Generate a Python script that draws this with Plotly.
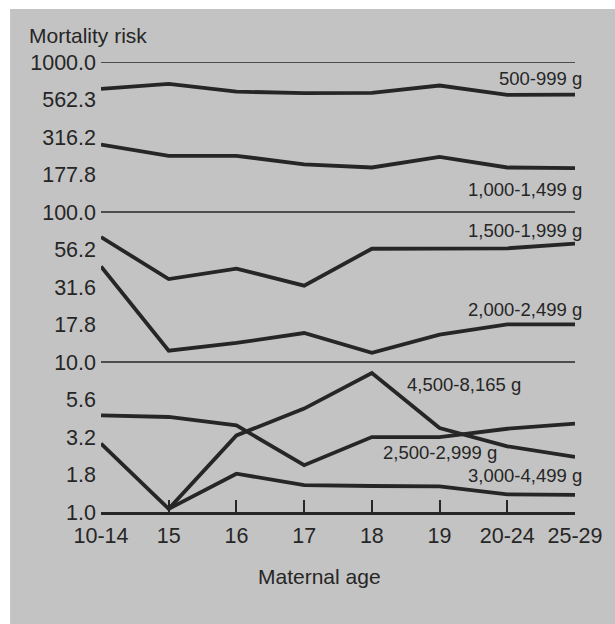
import plotly.graph_objects as go

ages = ["10-14", "15", "16", "17", "18", "19", "20-24", "25-29"]
w500 = [662, 714, 635, 620, 622, 697, 604, 606]
w1000 = [281, 237, 237, 208, 198, 233, 198, 196]
w1500 = [68.1, 35.7, 41.9, 32.3, 56.9, 56.9, 57.3, 61.5]
w2000 = [43.4, 11.9, 13.4, 15.6, 11.5, 15.2, 17.8, 17.8]
w2500 = [4.41, 4.30, 3.78, 2.05, 3.16, 3.16, 3.59, 3.88]
w3000 = [2.86, 1.05, 1.80, 1.51, 1.49, 1.48, 1.31, 1.30]
w4500 = [None, 1.05, 3.24, 4.89, 8.45, 3.63, 2.74, 2.33]

series = [
    ("500-999 g", w500),
    ("1,000-1,499 g", w1000),
    ("1,500-1,999 g", w1500),
    ("2,000-2,499 g", w2000),
    ("2,500-2,999 g", w2500),
    ("3,000-4,499 g", w3000),
    ("4,500-8,165 g", w4500),
]

ytickvals = [1.0, 1.778, 3.162, 5.623, 10.0, 17.78, 31.62, 56.23, 100.0, 177.8, 316.2, 562.3, 1000.0]
yticktext = ["1.0", "1.8", "3.2", "5.6", "10.0", "17.8", "31.6", "56.2", "100.0", "177.8", "316.2", "562.3", "1000.0"]
gridvals = [10.0, 100.0, 1000.0]

# label positions (paper x, log10 y, anchor)
labels = [
    ("500-999 g", 1.020, 2.893, "right"),
    ("1,000-1,499 g", 1.020, 2.153, "right"),
    ("1,500-1,999 g", 1.020, 1.878, "right"),
    ("2,000-2,499 g", 1.020, 1.351, "right"),
    ("4,500-8,165 g", 0.642, 0.851, "left"),
    ("2,500-2,999 g", 0.591, 0.398, "left"),
    ("3,000-4,499 g", 1.018, 0.245, "right"),
]

INK = "#262626"
BG = "#c3c3c3"
FONT = "Liberation Sans, Arial, sans-serif"

fig = go.Figure()
xi = list(range(len(ages)))
for name, vals in series:
    fig.add_trace(go.Scatter(
        x=xi, y=vals, mode="lines", name=name,
        line=dict(color=INK, width=3.8), connectgaps=False,
        cliponaxis=False, showlegend=False, hoverinfo="x+y+name"))

shapes = []
for g in gridvals:
    shapes.append(dict(type="line", xref="x", yref="y", x0=0, x1=len(ages) - 1,
                       y0=g, y1=g, line=dict(color=INK, width=1.6), layer="below"))
# white page strips around the gray board
shapes.append(dict(type="rect", xref="paper", yref="paper", x0=-0.3, x1=-0.1918,
                   y0=-0.3, y1=1.2, fillcolor="white", line=dict(width=0), layer="below"))
shapes.append(dict(type="rect", xref="paper", yref="paper", x0=-0.3, x1=1.2,
                   y0=1.1178, y1=1.2, fillcolor="white", line=dict(width=0), layer="below"))

annotations = []
for text, x, ly, anchor in labels:
    annotations.append(dict(text=text, x=x, y=ly, xref="paper", yref="y", xanchor=anchor,
                            yanchor="middle", showarrow=False,
                            font=dict(family=FONT, size=18.5, color=INK)))
annotations.append(dict(text="Mortality risk", x=-0.157, y=1.058, xref="paper", yref="paper",
                        xanchor="left", yanchor="middle", showarrow=False,
                        font=dict(family=FONT, size=21, color=INK)))
annotations.append(dict(text="Maternal age", x=0.462, y=-0.144, xref="paper", yref="paper",
                        xanchor="center", yanchor="middle", showarrow=False,
                        font=dict(family=FONT, size=21, color=INK)))

fig.update_layout(
    width=615, height=624,
    margin=dict(l=101, r=29, t=62, b=112),
    paper_bgcolor=BG, plot_bgcolor=BG,
    shapes=shapes, annotations=annotations,
    font=dict(family=FONT, color=INK),
    xaxis=dict(range=[0, len(ages) - 1], tickvals=xi, ticktext=ages,
               showgrid=False, zeroline=False, showline=True, linecolor=INK, linewidth=2.5,
               ticks="inside", ticklen=12, tickwidth=2, tickcolor=INK,
               ticklabelstandoff=2,
               tickfont=dict(family=FONT, size=21.5, color=INK)),
    yaxis=dict(type="log", range=[0, 3], tickvals=ytickvals, ticktext=yticktext,
               showgrid=False, zeroline=False, showline=False, ticks="",
               ticklabelstandoff=4,
               tickfont=dict(family=FONT, size=21.5, color=INK)),
)

fig.write_html("out.html")
